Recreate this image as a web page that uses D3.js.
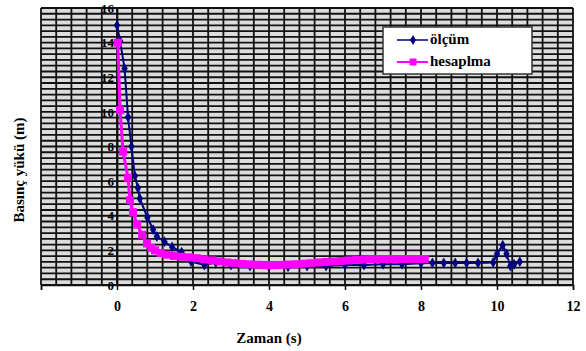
<!DOCTYPE html>
<html>
<head>
<meta charset="utf-8">
<script src="https://cdn.jsdelivr.net/npm/d3@7"></script>
<style>
  body { margin: 0; background: #fff; }
</style>
</head>
<body>
<div id="chart"></div>
<script>
// measured pressure head (ölçüm)
const olcumTime = [0, 0.08, 0.2, 0.29, 0.38, 0.47, 0.55, 0.6, 0.8, 0.95, 1.05, 1.25, 1.45, 1.7, 1.95,
  2.3, 2.6, 3, 3.5, 4, 4.5, 5, 5.5, 6, 6.5, 7, 7.5, 8, 8.3, 8.6, 8.9, 9.2, 9.5, 9.9, 10.0, 10.15, 10.25,
  10.35, 10.45, 10.6];
const olcumValue = [15.0, 14.1, 12.5, 9.7, 8.0, 6.3, 5.6, 5.0, 3.9, 3.2, 2.8, 2.5, 2.2, 1.9, 1.35,
  1.15, 1.3, 1.15, 1.1, 1.05, 1.05, 1.1, 1.1, 1.15, 1.15, 1.2, 1.2, 1.25, 1.27, 1.27, 1.27, 1.27, 1.27, 1.3, 1.8, 2.3, 1.8,
  1.1, 1.2, 1.35];

// computed pressure head (hesaplma)
const hesapTime = [0.02, 0.08, 0.16, 0.29, 0.34, 0.42, 0.53, 0.66, 0.79, 0.9, 1.0, 1.15, 1.3, 1.5, 1.7, 1.9,
  2.1, 2.3, 2.5, 2.7, 2.9, 3.1, 3.3, 3.5, 3.7, 3.9, 4.1, 4.3, 4.5, 4.7, 4.9, 5.1, 5.3, 5.5, 5.7, 5.9,
  6.1, 6.3, 6.5, 6.7, 6.9, 7.1, 7.3, 7.5, 7.7, 7.9, 8.1];
const hesapValue = [14.0, 10.1, 7.7, 6.2, 4.9, 4.2, 3.5, 2.9, 2.4, 2.15, 2.0, 1.85, 1.75, 1.68, 1.63, 1.6,
  1.55, 1.48, 1.42, 1.36, 1.3, 1.26, 1.22, 1.19, 1.17, 1.15, 1.15, 1.16, 1.18, 1.2, 1.23, 1.26, 1.3, 1.33, 1.36, 1.39,
  1.42, 1.45, 1.47, 1.49, 1.5, 1.5, 1.5, 1.5, 1.5, 1.5, 1.5];

const xTicks = [0, 2, 4, 6, 8, 10, 12];
const yTicks = [0, 2, 4, 6, 8, 10, 12, 14, 16];

const width = 586, height = 351;
const serif = "'Liberation Serif', 'Times New Roman', 'DejaVu Serif', serif";

const x = d3.scaleLinear().domain([-2, 12]).range([41, 573]);
const y = d3.scaleLinear().domain([0, 16]).range([285, 8]);

const svg = d3.select("#chart").append("svg")
  .attr("width", width)
  .attr("height", height)
  .attr("font-family", serif);

// dense grid
const grid = svg.append("g");
grid.append("rect")
  .attr("x", x(-2)).attr("y", y(16))
  .attr("width", x(12) - x(-2)).attr("height", y(0) - y(16))
  .attr("fill", "#dcdcdc");

grid.selectAll("line.h")
  .data(d3.range(0, 49).map(function(i) { return i / 3; }))
  .enter().append("line")
  .attr("class", "h")
  .attr("x1", x(-2)).attr("x2", x(12))
  .attr("y1", function(d) { return y(d); })
  .attr("y2", function(d) { return y(d); })
  .attr("stroke", "#111")
  .attr("stroke-width", 1.8);

grid.selectAll("line.v")
  .data(d3.range(0, 36).map(function(i) { return -2 + i * 0.4; }))
  .enter().append("line")
  .attr("class", "v")
  .attr("x1", function(d) { return x(d); })
  .attr("x2", function(d) { return x(d); })
  .attr("y1", y(16)).attr("y2", y(0))
  .attr("stroke", "#111")
  .attr("stroke-width", 1.8);

// x axis along the bottom
const xAxis = svg.append("g")
  .attr("transform", "translate(0," + y(0) + ")")
  .call(d3.axisBottom(x).tickValues([-2].concat(xTicks)).tickSize(5).tickFormat(function(d) { return d < 0 ? "" : d; }));
xAxis.attr("font-family", serif);
xAxis.select(".domain").attr("stroke", "#111").attr("stroke-width", 1.5);
xAxis.selectAll(".tick line").attr("stroke", "#111").attr("stroke-width", 1.5);
xAxis.selectAll("text")
  .attr("dy", "1.25em")
  .attr("font-family", serif)
  .attr("font-weight", "bold")
  .attr("font-size", 14)
  .attr("fill", "#000");

// y axis crossing at t = 0
const yAxis = svg.append("g")
  .attr("transform", "translate(" + x(0) + ",0)")
  .call(d3.axisLeft(y).tickValues(yTicks).tickSize(0).tickPadding(3));
yAxis.attr("font-family", serif);
yAxis.select(".domain").attr("stroke", "#111").attr("stroke-width", 1.8);
yAxis.selectAll("text")
  .attr("font-family", serif)
  .attr("font-weight", "bold")
  .attr("font-size", 13)
  .attr("fill", "#000");

// series
const olcum = olcumTime.map(function(t, i) { return [t, olcumValue[i]]; });
const hesap = hesapTime.map(function(t, i) { return [t, hesapValue[i]]; });

const line = d3.line()
  .x(function(d) { return x(d[0]); })
  .y(function(d) { return y(d[1]); });

svg.append("path")
  .datum(olcum)
  .attr("d", line)
  .attr("fill", "none")
  .attr("stroke", "#000080")
  .attr("stroke-width", 2);

svg.selectAll("path.olcum")
  .data(olcum)
  .enter().append("path")
  .attr("class", "olcum")
  .attr("d", d3.symbol().type(d3.symbolDiamond).size(34))
  .attr("transform", function(d) { return "translate(" + x(d[0]) + "," + y(d[1]) + ")"; })
  .attr("fill", "#000080");

svg.append("path")
  .datum(hesap)
  .attr("d", line)
  .attr("fill", "none")
  .attr("stroke", "#ff00ff")
  .attr("stroke-width", 3);

svg.selectAll("rect.hesap")
  .data(hesap)
  .enter().append("rect")
  .attr("class", "hesap")
  .attr("x", function(d) { return x(d[0]) - 4; })
  .attr("y", function(d) { return y(d[1]) - 4; })
  .attr("width", 8).attr("height", 8)
  .attr("fill", "#ff00ff");

// legend
const legend = svg.append("g");
legend.append("rect")
  .attr("x", 383).attr("y", 27)
  .attr("width", 149).attr("height", 47)
  .attr("fill", "#fff")
  .attr("stroke", "#333")
  .attr("stroke-width", 1.5);

const legendItems = [
  { label: "ölçüm", color: "#000080", ly: 40, shape: "diamond" },
  { label: "hesaplma", color: "#ff00ff", ly: 62, shape: "square" }
];

legendItems.forEach(function(it) {
  legend.append("line")
    .attr("x1", 397).attr("x2", 428)
    .attr("y1", it.ly).attr("y2", it.ly)
    .attr("stroke", it.color)
    .attr("stroke-width", it.shape == "square" ? 2 : 1.5);
  if (it.shape == "diamond") {
    legend.append("path")
      .attr("d", d3.symbol().type(d3.symbolDiamond).size(30))
      .attr("transform", "translate(413," + it.ly + ")")
      .attr("fill", it.color);
  } else {
    legend.append("rect")
      .attr("x", 409.5).attr("y", it.ly - 3.5)
      .attr("width", 7).attr("height", 7)
      .attr("fill", it.color);
  }
  legend.append("text")
    .attr("x", 430).attr("y", it.ly + 4)
    .attr("font-size", 15)
    .attr("font-weight", "bold")
    .text(it.label);
});

// axis titles
svg.append("text")
  .attr("x", 269).attr("y", 343)
  .attr("text-anchor", "middle")
  .attr("font-size", 15)
  .attr("font-weight", "bold")
  .text("Zaman (s)");

svg.append("text")
  .attr("transform", "translate(24,170) rotate(-90)")
  .attr("text-anchor", "middle")
  .attr("font-size", 15)
  .attr("font-weight", "bold")
  .text("Basınç yükü  (m)");
</script>
</body>
</html>
